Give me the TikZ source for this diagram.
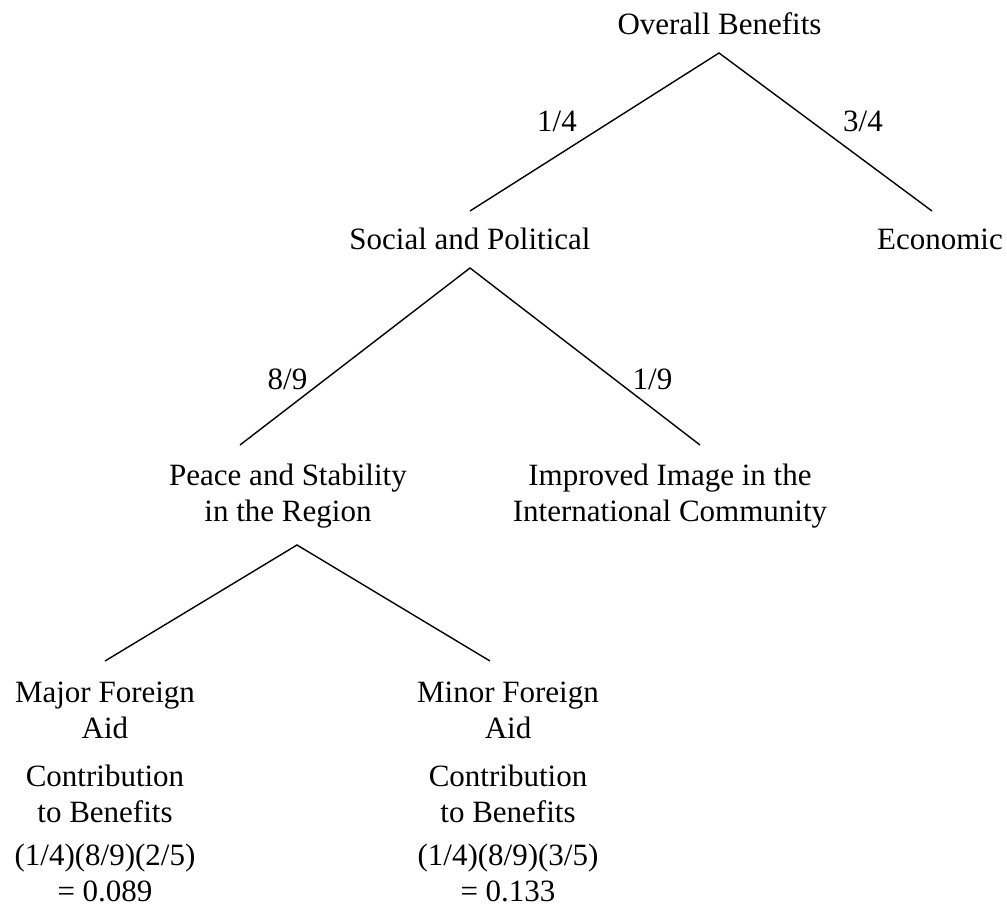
\documentclass[tikz,border=0pt]{standalone}
\usepackage{fontspec}
\setmainfont{Liberation Serif}
\newcommand{\twoline}[2]{\begin{tabular}[t]{@{}c@{}}#1\\#2\end{tabular}}
\begin{document}
\begin{tikzpicture}[x=1pt,y=-1pt,
  lbl/.style={inner sep=0pt, anchor=base, font=\fontsize{31}{36}\selectfont},
  edge/.style={line width=1.4pt, line join=miter}]
\useasboundingbox (0,0) rectangle (1007,909);
% text nodes
\node[lbl] (ob) at (719.5,35) {Overall Benefits};
\node[lbl] (sp) at (470,250) {Social and Political};
\node[lbl] (ec) at (940,250) {Economic};
\node[lbl] (ps) at (288,485) {\twoline{Peace and Stability}{in the Region}};
\node[lbl] (ii) at (670,485) {\twoline{Improved Image in the}{International Community}};
\node[lbl] (ma) at (105,702) {\twoline{Major Foreign}{Aid}};
\node[lbl] (mc) at (105,786) {\twoline{Contribution}{to Benefits}};
\node[lbl] (mv) at (105,865) {\twoline{(1/4)(8/9)(2/5)}{= 0.089}};
\node[lbl] (na) at (508,702) {\twoline{Minor Foreign}{Aid}};
\node[lbl] (nc) at (508,786) {\twoline{Contribution}{to Benefits}};
\node[lbl] (nv) at (508,865) {\twoline{(1/4)(8/9)(3/5)}{= 0.133}};
% weights
\node[lbl] (w1) at (557,132) {1/4};
\node[lbl] (w2) at (863,132) {3/4};
\node[lbl] (w3) at (287.5,389) {8/9};
\node[lbl] (w4) at (652.5,389) {1/9};
% connector ends
\coordinate (ob-a) at (719,53);
\coordinate (sp-t) at (470,211);
\coordinate (ec-t) at (932,211);
\coordinate (sp-a) at (470,268);
\coordinate (ps-t) at (240,445);
\coordinate (ii-t) at (700,445);
\coordinate (ps-a) at (297,545);
\coordinate (ma-t) at (105,661);
\coordinate (na-t) at (490,661);
% connectors
\draw[edge] (sp-t) -- (ob-a) -- (ec-t);
\draw[edge] (ps-t) -- (sp-a) -- (ii-t);
\draw[edge] (ma-t) -- (ps-a) -- (na-t);
\end{tikzpicture}
\end{document}
